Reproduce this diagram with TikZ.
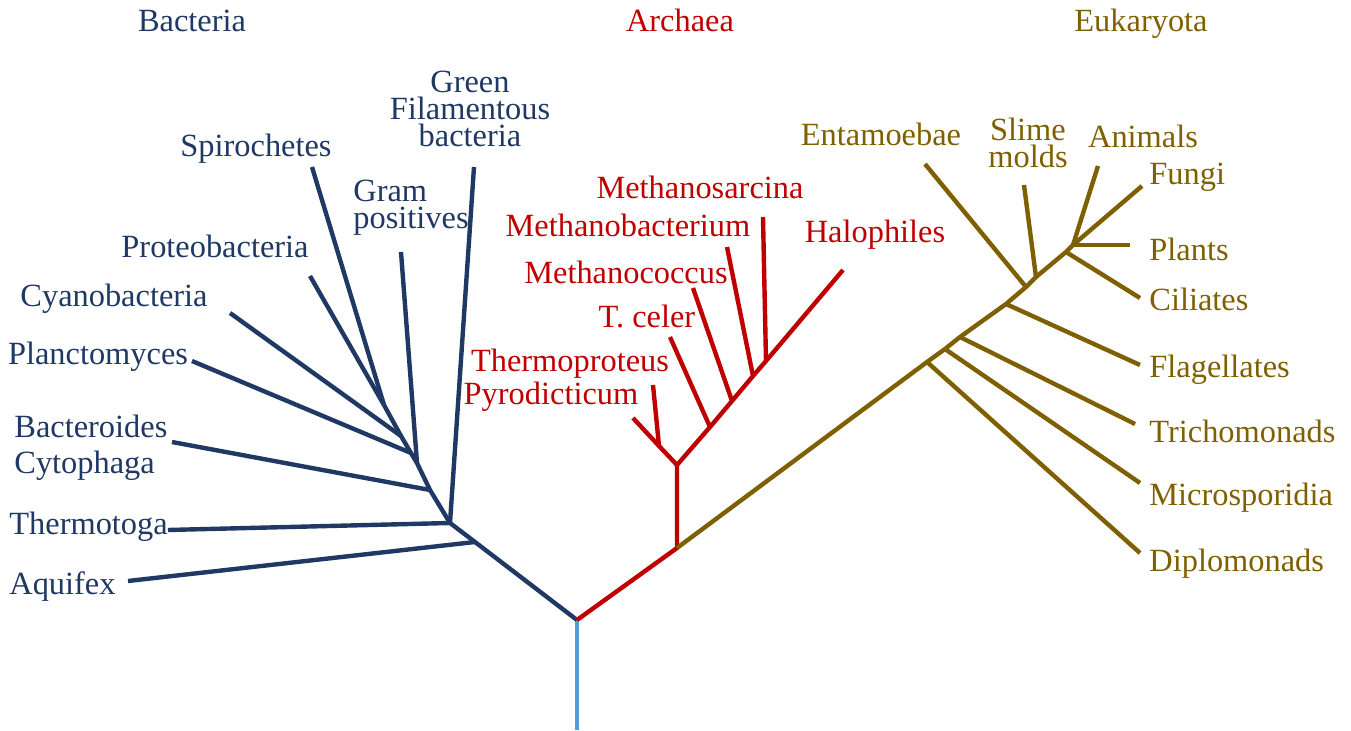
\documentclass[tikz,border=0pt]{standalone}
\usepackage{fontspec}
\setmainfont{Liberation Serif}
\usepackage{tikz}

\definecolor{bactblue}{HTML}{1F3864}
\definecolor{archred}{HTML}{C00000}
\definecolor{eukolive}{HTML}{7F6000}
\definecolor{rootblue}{HTML}{5B9BD5}

\begin{document}
\begin{tikzpicture}[x=0.5pt, y=-0.5pt,
  branch/.style={line width=2.2pt, line join=round},
  lab/.style={font=\rmfamily\fontsize{16.2}{13.3}\selectfont, inner sep=0pt}]
  \useasboundingbox (0,0) rectangle (1351,731);

  % Root of the tree
  \coordinate (root) at (577,620);
  \coordinate (base) at (577,730);
  \draw[branch, rootblue] (base) -- (root);

  % Domain titles
  \node[lab, bactblue, anchor=base] (bacteria) at (192,32) {Bacteria};
  \node[lab, archred, anchor=base] (archaea) at (680,32) {Archaea};
  \node[lab, eukolive, anchor=base] (eukaryota) at (1141,32) {Eukaryota};

  % Bacteria -- labels
  \node[lab, bactblue, anchor=north, align=center] (green) at (470,71) {Green\\Filamentous\\bacteria};
  \node[lab, bactblue, anchor=base] (spiro) at (256,157) {Spirochetes};
  \node[lab, bactblue, anchor=north west, align=left] (gram) at (353,180) {Gram\\positives};
  \node[lab, bactblue, anchor=base] (proteo) at (215,258) {Proteobacteria};
  \node[lab, bactblue, anchor=base] (cyano) at (114,307) {Cyanobacteria};
  \node[lab, bactblue, anchor=base] (plancto) at (98,365) {Planctomyces};
  \node[lab, bactblue, anchor=north west, align=left,
    font=\rmfamily\fontsize{16.2}{18}\selectfont] (bactero) at (14,415) {Bacteroides\\Cytophaga};
  \node[lab, bactblue, anchor=base west] (thermotoga) at (9,535) {Thermotoga};
  \node[lab, bactblue, anchor=base west] (aquifex) at (9,595) {Aquifex};

  % Bacteria -- joints and tips
  \coordinate (b0) at (475,542);
  \coordinate (b1) at (450,523);
  \coordinate (b2) at (430,490);
  \coordinate (b3) at (417,463);
  \coordinate (b4) at (411,453);
  \coordinate (b5) at (401,436);
  \coordinate (b6) at (384,405);
  \coordinate (aquifex-t) at (128,581);
  \coordinate (thermotoga-t) at (168,530);
  \coordinate (green-t) at (474,167);
  \coordinate (bactero-t) at (172,442);
  \coordinate (gram-t) at (401,252);
  \coordinate (plancto-t) at (192,361);
  \coordinate (cyano-t) at (230,313);
  \coordinate (proteo-t) at (310,276);
  \coordinate (spiro-t) at (312,167);

  \draw[branch, bactblue] (root) -- (b0) -- (b1) -- (b2) -- (b3) -- (b4) -- (b5) -- (b6);
  \foreach \j/\t in {b0/aquifex, b1/thermotoga, b1/green, b2/bactero, b3/gram,
                     b4/plancto, b5/cyano, b6/proteo, b6/spiro} {
    \draw[branch, bactblue] (\j) -- (\t-t);
  }

  % Archaea -- labels
  \node[lab, archred, anchor=base] (msarc) at (700,199) {Methanosarcina};
  \node[lab, archred, anchor=base] (mbac) at (628,237) {Methanobacterium};
  \node[lab, archred, anchor=base] (halo) at (875,243) {Halophiles};
  \node[lab, archred, anchor=base] (mcoc) at (626,284) {Methanococcus};
  \node[lab, archred, anchor=base] (tcel) at (647,328) {T. celer};
  \node[lab, archred, anchor=base] (thermo) at (570,372) {Thermoproteus};
  \node[lab, archred, anchor=base] (pyro) at (551,405) {Pyrodicticum};

  % Archaea -- joints and tips
  \coordinate (a0) at (677,548);
  \coordinate (a1) at (677,465);
  \coordinate (a2) at (659,446);
  \coordinate (a3) at (710,427);
  \coordinate (a4) at (732,401);
  \coordinate (a5) at (753,376);
  \coordinate (a6) at (766,361);
  \coordinate (pyro-t) at (633,418);
  \coordinate (thermo-t) at (653,385);
  \coordinate (tcel-t) at (670,337);
  \coordinate (mcoc-t) at (693,288);
  \coordinate (mbac-t) at (727,247);
  \coordinate (msarc-t) at (763,217);
  \coordinate (halo-t) at (843,270);

  \draw[branch, archred] (root) -- (a0) -- (a1);
  \draw[branch, archred] (pyro-t) -- (a2) -- (a1) -- (a3) -- (a4) -- (a5) -- (a6) -- (halo-t);
  \foreach \j/\t in {a2/thermo, a3/tcel, a4/mcoc, a5/mbac, a6/msarc} {
    \draw[branch, archred] (\j) -- (\t-t);
  }

  % Eukaryota -- labels
  \node[lab, eukolive, anchor=base] (ent) at (881,146) {Entamoebae};
  \node[lab, eukolive, anchor=north, align=center] (slime) at (1028,118) {Slime\\molds};
  \node[lab, eukolive, anchor=base] (anim) at (1143,148) {Animals};
  \foreach \n/\y/\lab in {fungi/185/Fungi, plants/261/Plants, cil/311/Ciliates,
                          flag/378/Flagellates, tricho/443/Trichomonads,
                          micro/506/Microsporidia, diplo/572/Diplomonads} {
    \node[lab, eukolive, anchor=base west] (\n) at (1149,\y) {\lab};
  }

  % Eukaryota -- joints and tips
  \coordinate (e1) at (927,362);
  \coordinate (e2) at (945,349);
  \coordinate (e3) at (960,337);
  \coordinate (e4) at (1006,304);
  \coordinate (e5) at (1026,287);
  \coordinate (e6) at (1036,277);
  \coordinate (e7) at (1066,252);
  \coordinate (e8) at (1073,245);
  \coordinate (diplo-t) at (1140,553);
  \coordinate (micro-t) at (1140,483);
  \coordinate (tricho-t) at (1135,424);
  \coordinate (flag-t) at (1140,365);
  \coordinate (ent-t) at (925,164);
  \coordinate (slime-t) at (1024,185);
  \coordinate (cil-t) at (1140,298);
  \coordinate (anim-t) at (1098,166);
  \coordinate (fungi-t) at (1142,186);
  \coordinate (plants-t) at (1130,245);

  \draw[branch, eukolive] (a0) -- (e1) -- (e2) -- (e3) -- (e4) -- (e5) -- (e6) -- (e7) -- (e8);
  \foreach \j/\t in {e1/diplo, e2/micro, e3/tricho, e4/flag, e5/ent, e6/slime,
                     e7/cil, e8/anim, e8/fungi, e8/plants} {
    \draw[branch, eukolive] (\j) -- (\t-t);
  }
\end{tikzpicture}
\end{document}
